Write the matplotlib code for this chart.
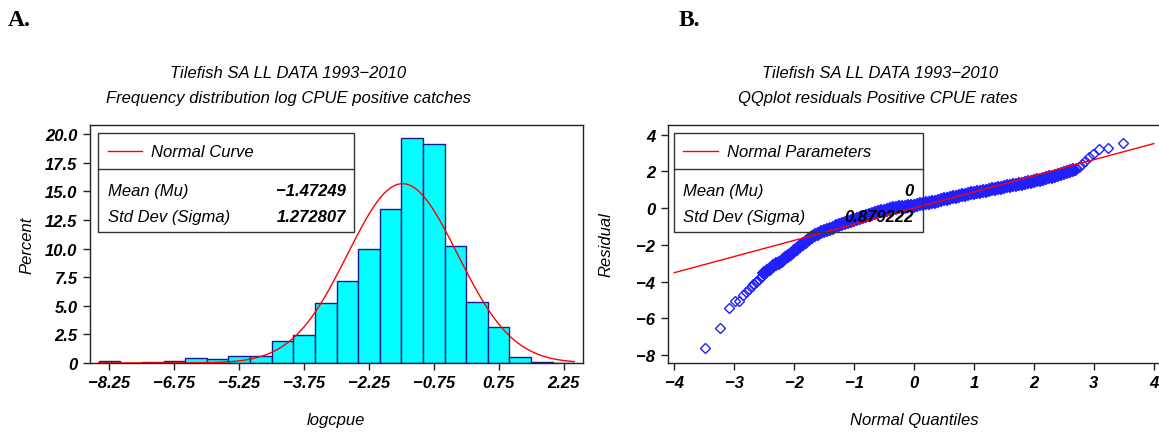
import numpy as np
import matplotlib
matplotlib.use("Agg")
import matplotlib.pyplot as plt
from matplotlib.patches import Rectangle
from matplotlib.lines import Line2D
from matplotlib.font_manager import FontProperties

# ---------------- data ----------------
# Panel A: histogram of logcpue (percent per 0.5-wide bin, midpoints)
bin_midpoints = [-8.25, -7.75, -7.25, -6.75, -6.25, -5.75, -5.25, -4.75, -4.25,
                 -3.75, -3.25, -2.75, -2.25, -1.75, -1.25, -0.75, -0.25, 0.25,
                 0.75, 1.25, 1.75, 2.25]
bin_percent = [0.17, 0.0, 0.08, 0.17, 0.43, 0.33, 0.58, 0.58, 1.92,
               2.47, 5.23, 7.15, 9.94, 13.5, 19.7, 19.18, 10.25, 5.34,
               3.14, 0.55, 0.10, 0.03]
bin_width = 0.5
hist_mean = -1.47249
hist_sd = 1.272807
hist_xticks = [-8.25, -6.75, -5.25, -3.75, -2.25, -0.75, 0.75, 2.25]
hist_yticks = [0, 2.5, 5.0, 7.5, 10.0, 12.5, 15.0, 17.5, 20.0]
hist_ytick_labels = ["0", "2.5", "5.0", "7.5", "10.0", "12.5", "15.0", "17.5", "20.0"]

# Panel B: QQ plot of residuals (normal quantile, residual)
qq_tail_low_q = [-3.49, -3.23, -3.09, -2.99, -2.92, -2.855, -2.80, -2.755, -2.71,
                 -2.68, -2.645, -2.615, -2.585, -2.56, -2.535]
qq_tail_low_r = [-7.60, -6.51, -5.42, -5.08, -5.04, -4.74, -4.55, -4.40, -4.27,
                 -4.15, -4.05, -3.95, -3.85, -3.77, -3.68]
qq_band_q = [-2.50, -2.45, -2.40, -2.35, -2.30, -2.25, -2.20, -2.15, -2.10, -2.05,
             -2.00, -1.95, -1.90, -1.85, -1.80, -1.75, -1.70, -1.65, -1.60, -1.55,
             -1.50, -1.45, -1.40, -1.35, -1.30, -1.25, -1.20, -1.15, -1.10, -1.05,
             -1.00, -0.95, -0.90, -0.85, -0.80, -0.75, -0.70, -0.65, -0.60, -0.55,
             -0.50, -0.45, -0.40, -0.35, -0.30, -0.25, -0.20, -0.15, -0.10, -0.05,
             0.00, 0.05, 0.10, 0.15, 0.20, 0.25, 0.30, 0.35, 0.40, 0.45,
             0.50, 0.55, 0.60, 0.65, 0.70, 0.75, 0.80, 0.85, 0.90, 0.95,
             1.00, 1.05, 1.10, 1.15, 1.20, 1.25, 1.30, 1.35, 1.40, 1.45,
             1.50, 1.55, 1.60, 1.65, 1.70, 1.75, 1.80, 1.85, 1.90, 1.95,
             2.00, 2.05, 2.10, 2.15, 2.20, 2.25, 2.30, 2.35, 2.40, 2.45,
             2.50, 2.55, 2.60, 2.65]
qq_band_r = [-3.56, -3.45, -3.30, -3.18, -3.07, -2.97, -2.86, -2.74, -2.62, -2.48,
             -2.35, -2.21, -2.08, -1.95, -1.82, -1.70, -1.59, -1.49, -1.40, -1.32,
             -1.25, -1.18, -1.12, -1.06, -1.00, -0.94, -0.88, -0.82, -0.77, -0.71,
             -0.65, -0.60, -0.54, -0.48, -0.43, -0.37, -0.32, -0.27, -0.22, -0.18,
             -0.13, -0.09, -0.05, -0.02, 0.01, 0.04, 0.06, 0.08, 0.10, 0.12,
             0.14, 0.17, 0.20, 0.23, 0.26, 0.29, 0.33, 0.36, 0.40, 0.44,
             0.48, 0.51, 0.55, 0.59, 0.63, 0.67, 0.71, 0.74, 0.78, 0.81,
             0.84, 0.87, 0.90, 0.93, 0.96, 0.99, 1.03, 1.06, 1.09, 1.12,
             1.15, 1.18, 1.21, 1.24, 1.28, 1.31, 1.34, 1.37, 1.41, 1.44,
             1.48, 1.51, 1.55, 1.59, 1.63, 1.67, 1.71, 1.75, 1.80, 1.85,
             1.90, 1.96, 2.02, 2.08]
qq_tail_high_q = [2.68, 2.71, 2.755, 2.80, 2.855, 2.92, 2.99, 3.09, 3.23, 3.49]
qq_tail_high_r = [2.10, 2.17, 2.26, 2.40, 2.58, 2.78, 2.97, 3.21, 3.27, 3.54]
qq_mean = 0.0
qq_sd = 0.879222
qq_xticks = [-4, -3, -2, -1, 0, 1, 2, 3, 4]
qq_yticks = [-8, -6, -4, -2, 0, 2, 4]

# ---------------- figure ----------------
W, H = 1159, 435
fig = plt.figure(figsize=(W / 100, H / 100), dpi=100)
FONT = "Liberation Sans"


def fx(x):
    return x / W


def fy(y):
    return 1 - y / H


def axes_px(l, t, r, b):
    return fig.add_axes([fx(l), fy(b), fx(r) - fx(l), (b - t) / H])


tick_font = dict(family=FONT, size=12, weight="bold", style="italic")
lab_font = dict(family=FONT, size=12, style="italic")

# ---------- Panel A ----------
axA = axes_px(90, 126, 583, 364)
axA.bar(bin_midpoints, bin_percent, width=bin_width, color="#00FFFF",
        edgecolor="#1a1a8c", linewidth=1.0, zorder=2)
xs = np.linspace(-8.5, 2.5, 500)
curve = 100 * bin_width * np.exp(-0.5 * ((xs - hist_mean) / hist_sd) ** 2) / (hist_sd * np.sqrt(2 * np.pi))
axA.plot(xs, curve, color="#FF0000", linewidth=1.0, zorder=3)
axA.set_xlim(-8.7, 2.7)
axA.set_ylim(0, 20.8)
axA.set_xticks(hist_xticks)
axA.set_xticklabels([f"{v:.2f}".replace("-", "\u2212") for v in hist_xticks])
axA.set_yticks(hist_yticks)
axA.set_yticklabels(hist_ytick_labels)

# ---------- Panel B ----------
axB = axes_px(667.7, 126, 1161, 364)
# sparse tails: thin open diamonds
axB.plot(qq_tail_low_q + qq_tail_high_q, qq_tail_low_r + qq_tail_high_r, linestyle="none",
         marker="D", markersize=4.6, markerfacecolor="none", markeredgecolor="#2020FF",
         markeredgewidth=1.0, zorder=2)
# dense central part: overlapping diamonds forming a solid band
axB.plot(qq_band_q, qq_band_r, linestyle="none", marker="D", markersize=5.8,
         markerfacecolor="#2020FF", markeredgecolor="#2020FF", markeredgewidth=1.4, zorder=2)
lx = np.array([-4.0, 4.0])
axB.plot(lx, qq_mean + qq_sd * lx, color="#FF0000", linewidth=1.0, zorder=3)
axB.set_xlim(-4.11, 4.12)
axB.set_ylim(-8.44, 4.53)
axB.set_xticks(qq_xticks)
axB.set_xticklabels([str(v).replace("-", "\u2212") for v in qq_xticks])
axB.set_yticks(qq_yticks)
axB.set_yticklabels([str(v).replace("-", "\u2212") for v in qq_yticks])

for ax in (axA, axB):
    for sp in ax.spines.values():
        sp.set_linewidth(1.0)
        sp.set_color("#222222")
    ax.tick_params(direction="out", length=5, width=1.0, pad=4, colors="#222222")
    for lab in ax.get_xticklabels() + ax.get_yticklabels():
        lab.set_fontproperties(FontProperties(**tick_font))
        lab.set_color("black")

# ---------- titles & labels ----------
fig.text(fx(288), fy(74), "Tilefish SA LL DATA 1993\u22122010", ha="center", va="center", **lab_font)
fig.text(fx(288), fy(99), "Frequency distribution log CPUE positive catches", ha="center", va="center", **lab_font)
fig.text(fx(880), fy(74), "Tilefish SA LL DATA 1993\u22122010", ha="center", va="center", **lab_font)
fig.text(fx(878), fy(99), "QQplot residuals Positive CPUE rates", ha="center", va="center", **lab_font)

fig.text(fx(8), fy(21), "A.", ha="left", va="center", family="Liberation Serif", weight="bold", size=17)
fig.text(fx(679), fy(21), "B.", ha="left", va="center", family="Liberation Serif", weight="bold", size=17)

fig.text(fx(336), fy(421), "logcpue", ha="center", va="center", **lab_font)
fig.text(fx(914), fy(421), "Normal Quantiles", ha="center", va="center", **lab_font)
fig.text(fx(27), fy(245), "Percent", ha="center", va="center", rotation=90, **lab_font)
fig.text(fx(606), fy(245), "Residual", ha="center", va="center", rotation=90, **lab_font)


# ---------- legend boxes ----------
def legend_box(l, t, r, b, div, line_x0, line_x1, label, label_x, row_x, val_x, mu, sd):
    rect = Rectangle((fx(l), fy(b)), fx(r) - fx(l), (b - t) / H, transform=fig.transFigure,
                     fill=False, edgecolor="#333333", linewidth=1.0, zorder=5)
    fig.add_artist(rect)
    fig.add_artist(Line2D([fx(l), fx(r)], [fy(div), fy(div)], transform=fig.transFigure,
                          color="#333333", linewidth=1.0, zorder=5))
    yc = (t + div) / 2
    fig.add_artist(Line2D([fx(line_x0), fx(line_x1)], [fy(yc), fy(yc)], transform=fig.transFigure,
                          color="#FF0000", linewidth=1.0, zorder=5))
    fig.text(fx(label_x), fy(yc), label, ha="left", va="center", zorder=6, **lab_font)
    fig.text(fx(row_x), fy(191.5), "Mean (Mu)", ha="left", va="center", zorder=6, **lab_font)
    fig.text(fx(row_x), fy(218), "Std Dev (Sigma)", ha="left", va="center", zorder=6, **lab_font)
    fig.text(fx(val_x), fy(191.5), mu, ha="right", va="center", zorder=6, **tick_font)
    fig.text(fx(val_x), fy(218), sd, ha="right", va="center", zorder=6, **tick_font)


legend_box(98.3, 134.3, 354.3, 232.7, 170, 108.3, 141.7, "Normal Curve", 150.7, 107.7, 346,
           f"{hist_mean:.5f}".replace("-", "\u2212"), f"{hist_sd:.6f}")
legend_box(674.3, 134.3, 923.3, 232.7, 170, 683, 717.7, "Normal Parameters", 726.7, 683.3, 914,
           f"{qq_mean:g}", f"{qq_sd:.6f}")

fig.savefig("out.png", dpi=100)
